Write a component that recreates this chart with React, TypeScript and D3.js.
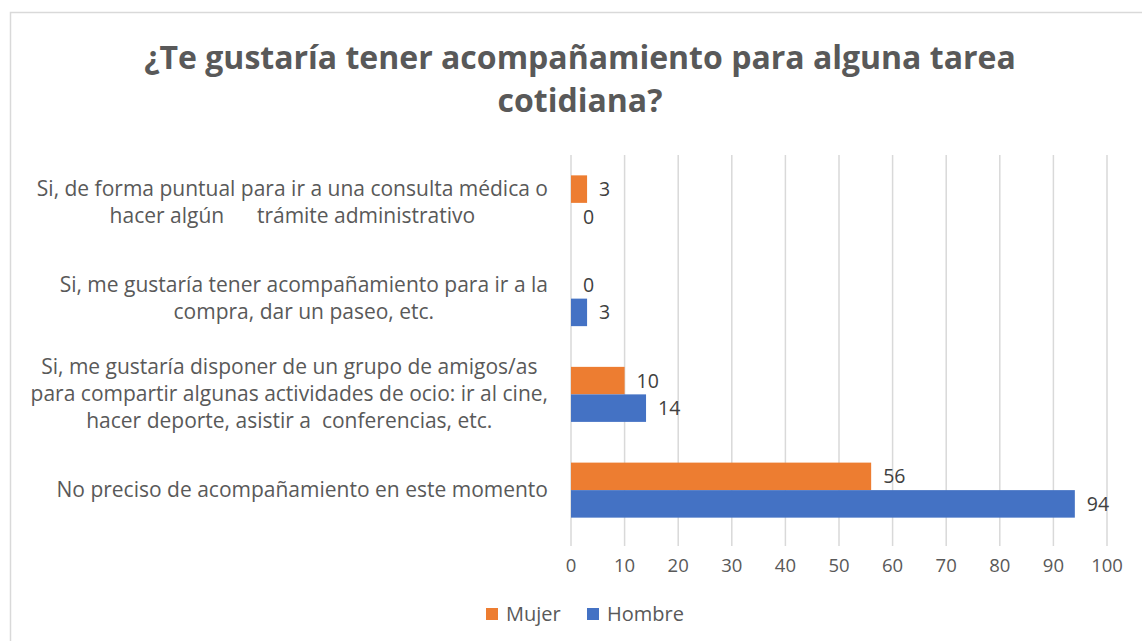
import React, { useEffect, useRef } from 'react'
import * as d3 from 'd3'

// categories, top to bottom as shown
const categories = [
  'Si, de forma puntual para ir a una consulta médica o|hacer algún      trámite administrativo',
  'Si, me gustaría tener acompañamiento para ir a la|compra, dar un paseo, etc.',
  'Si, me gustaría disponer de un grupo de amigos/as|para compartir algunas actividades de ocio: ir al cine,|hacer deporte, asistir a  conferencias, etc.',
  'No preciso de acompañamiento en este momento',
]
const series = ['Mujer', 'Hombre']
const mujer = [3, 0, 10, 56]
const hombre = [0, 3, 14, 94]
const ticks = [0, 10, 20, 30, 40, 50, 60, 70, 80, 90, 100]
const colors = ['#ED7D31', '#4472C4']
const titleLines = ['¿Te gustaría tener acompañamiento para alguna tarea', 'cotidiana?']

const W = 1142
const H = 641
const FONT = '"Open Sans", Lato, sans-serif'

export default function App() {
  const ref = useRef<SVGSVGElement>(null)

  useEffect(() => {
    const svg = d3.select(ref.current)
    svg.selectAll('*').remove()

    // chart frame
    svg.append('rect')
      .attr('x', 10.5).attr('y', 12.5)
      .attr('width', W).attr('height', H)
      .attr('fill', '#fff')
      .attr('stroke', '#d9d9d9').attr('stroke-width', 1.5)

    // title
    svg.append('text')
      .attr('font-family', FONT).attr('font-weight', 700)
      .attr('font-size', 32).attr('fill', '#595959')
      .attr('text-anchor', 'middle')
      .selectAll('tspan').data(titleLines).enter().append('tspan')
      .attr('x', 580).attr('y', (d, i) => 69 + i * 43)
      .text(d => d)

    const x = d3.scaleLinear().domain([0, 100]).range([571, 1107])
    const y = d3.scaleBand<number>().domain(d3.range(categories.length)).range([155, 538])
    const y1 = d3.scaleBand<string>().domain(series).range([0, y.bandwidth()]).paddingOuter(0.74)

    // gridlines
    svg.append('g').selectAll('line').data(ticks).enter().append('line')
      .attr('x1', d => x(d)).attr('x2', d => x(d))
      .attr('y1', 155).attr('y2', 546)
      .attr('stroke', '#d9d9d9').attr('stroke-width', 1.5)

    // tick labels
    svg.append('g').selectAll('text').data(ticks).enter().append('text')
      .attr('x', d => x(d)).attr('y', 572)
      .attr('text-anchor', 'middle')
      .attr('font-family', FONT).attr('font-size', 18.5).attr('fill', '#595959')
      .text(d => d)

    // bars
    const values = [mujer, hombre]
    series.forEach((s, si) => {
      const g = svg.append('g')
      g.selectAll('rect').data(values[si]).enter().append('rect')
        .attr('x', x(0))
        .attr('y', (d, i) => (y(i) as number) + (y1(s) as number))
        .attr('width', d => x(d) - x(0))
        .attr('height', y1.bandwidth())
        .attr('fill', colors[si])
      g.selectAll('text').data(values[si]).enter().append('text')
        .attr('x', d => x(d) + 12)
        .attr('y', (d, i) => (y(i) as number) + (y1(s) as number) + y1.bandwidth() / 2 + 7)
        .attr('font-family', FONT).attr('font-size', 19.5).attr('fill', '#404040')
        .text(d => d)
    })

    // category labels
    categories.forEach((c, i) => {
      const lines = c.split('|')
      const t = svg.append('text')
        .attr('font-family', FONT).attr('font-size', 21).attr('fill', '#595959')
        .attr('text-anchor', 'middle')
        .style('white-space', 'pre')
      const cy = (y(i) as number) + y.bandwidth() / 2
      const spans = t.selectAll('tspan').data(lines).enter().append('tspan')
        .attr('y', (d, j) => cy + 7 + (j - (lines.length - 1) / 2) * 27)
        .text(d => d)
      let maxW = 0
      spans.each(function () {
        maxW = Math.max(maxW, (this as SVGTSpanElement).getComputedTextLength())
      })
      spans.attr('x', 548 - maxW / 2)
    })

    // legend
    const leg = svg.append('g')
    const legX = [486, 587]
    series.forEach((s, si) => {
      leg.append('rect')
        .attr('x', legX[si]).attr('y', 608)
        .attr('width', 12).attr('height', 12)
        .attr('fill', colors[si])
      leg.append('text')
        .attr('x', legX[si] + 20).attr('y', 621)
        .attr('font-family', FONT).attr('font-size', 20).attr('fill', '#595959')
        .text(s)
    })
  }, [])

  return (
    <svg ref={ref} width={W} height={H}
      style={{ position: 'absolute', left: 0, top: 0, display: 'block', background: '#fff' }} />
  )
}
